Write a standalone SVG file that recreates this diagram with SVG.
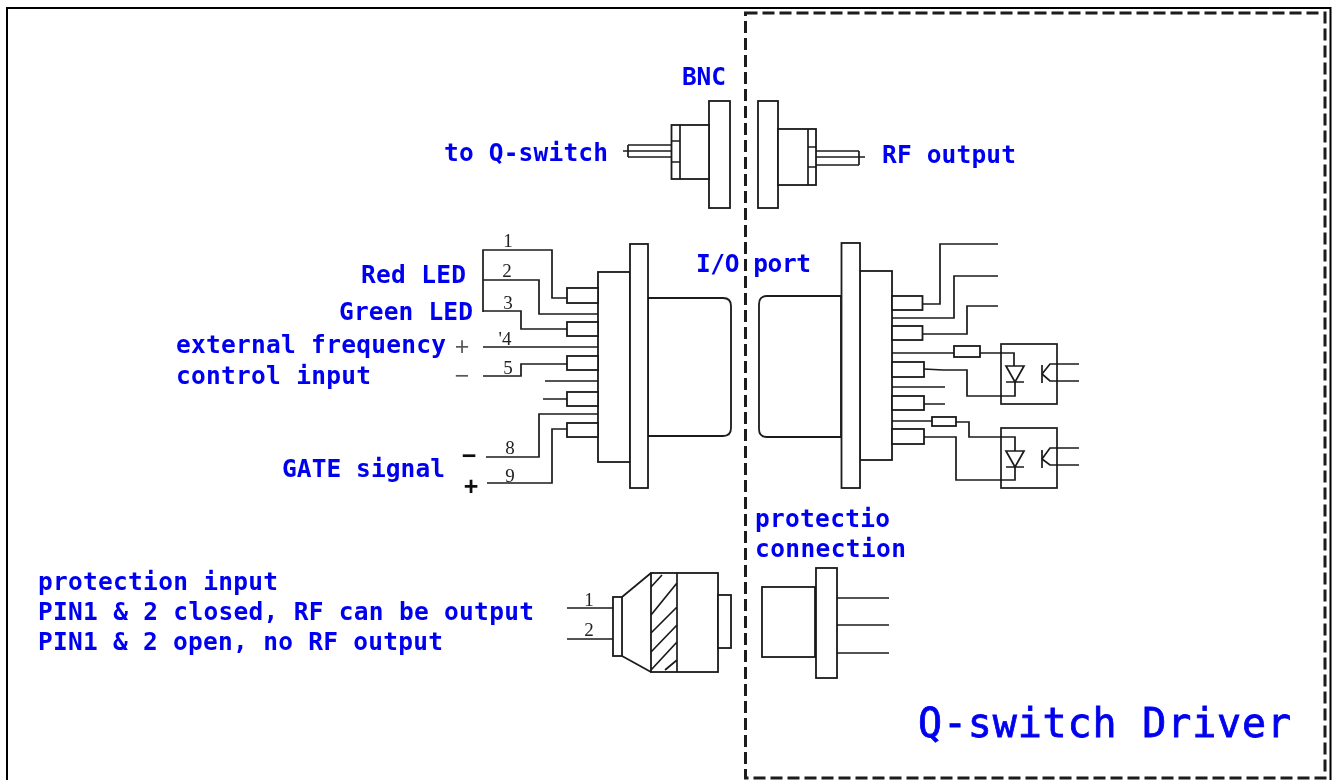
<svg xmlns="http://www.w3.org/2000/svg" width="1338" height="780" viewBox="0 0 1338 780">
<style>
.l{fill:none;stroke:#1a1a1a;stroke-width:1.7}
.w{fill:#fff;stroke:#1a1a1a;stroke-width:1.8}
.t{font-family:"DejaVu Sans Mono",monospace;font-weight:bold;fill:#0000f0;font-size:24.500px}
.n{font-family:"Liberation Serif",serif;fill:#222;font-size:19px;text-anchor:middle}
.s{font-family:"Liberation Sans",sans-serif;fill:#111;font-size:25px;text-anchor:middle}
</style>
<defs>
<filter id="soft" filterUnits="userSpaceOnUse" x="0" y="0" width="1338" height="780"><feGaussianBlur stdDeviation="0.45"/></filter>
</defs>
<rect width="1338" height="780" fill="#fff"/>
<path d="M7 780V8H1330.500V780" fill="none" stroke="#000" stroke-width="2"/>
<g filter="url(#soft)">
<g id="connectors">
<path class="l" d="M483 312V250H552V298H567M483 280H539V314H598M483 311H521V329H567M483 347H598M483 376H521V364H567M545 381H598M543 399H567M486 457H539V414H598M487 483H552V429H567"/>
<path class="l" d="M922 304H940V244H998M892 318H954V276H998M922 334H967V306H998M892 353H954M980 353H1014V366M1015 382V396H967V370H943L924 369M892 387H945M924 404H945M892 421H932M956 422H969V437H1015V451M1015 467V480H956V437H924"/>
<path class="l" d="M1042 374L1050 364H1079M1042 374L1050 381H1079M1042 459L1050 448H1079M1042 459L1050 465H1079"/>
<path class="l" d="M567 608H613M567 639H613M837 598H889M837 625H889M837 653H889"/>
<path class="l" d="M623 151H671M628 145H671M628 157H671M628 145V157M816 151H859M816 165H859M859 151V165M816 157H865"/>
</g>
<g id="bnc-left">
<rect class="w" x="709" y="101" width="21" height="107"/>
<rect class="w" x="671.500" y="125" width="37.500" height="54"/>
<path class="l" d="M680 125V179M671 141H680M671 162H680"/>
</g>
<g id="bnc-right">
<rect class="w" x="758" y="101" width="20" height="107"/>
<rect class="w" x="778" y="129" width="38" height="56"/>
<path class="l" d="M808 129V185M808 147H816M808 167H816"/>
</g>
<g id="io-left">
<path class="w" d="M648 298H723Q731 298 731 306V428Q731 436 723 436H648Z"/>
<rect class="w" x="598" y="272" width="32" height="190"/>
<rect class="w" x="630" y="244" width="18" height="244"/>
<rect class="w" x="567" y="288" width="31" height="15"/>
<rect class="w" x="567" y="322" width="31" height="14"/>
<rect class="w" x="567" y="356" width="31" height="14"/>
<rect class="w" x="567" y="392" width="31" height="14"/>
<rect class="w" x="567" y="423" width="31" height="14"/>
</g>
<g id="io-right">
<path class="w" d="M841 296H767Q759 296 759 304V429Q759 437 767 437H841Z"/>
<rect class="w" x="860" y="271" width="32" height="189"/>
<rect class="w" x="841.500" y="243" width="18.500" height="245"/>
<rect class="w" x="892" y="296" width="30.500" height="14"/>
<rect class="w" x="892" y="326" width="30.500" height="14"/>
<rect class="w" x="892" y="362" width="32" height="15"/>
<rect class="w" x="892" y="396" width="32" height="14"/>
<rect class="w" x="892" y="429" width="32" height="15"/>
<rect class="w" x="954" y="346" width="26" height="11"/>
<rect class="w" x="932" y="417" width="24" height="9"/>
</g>
<g id="opto-1">
<rect class="l" x="1001" y="344" width="56" height="60"/>
<path class="l" d="M1006 366H1024L1015 382ZM1006 382H1024M1042 365V383"/>
</g>
<g id="opto-2">
<rect class="l" x="1001" y="428" width="56" height="60"/>
<path class="l" d="M1006 451H1024L1015 467ZM1006 467H1024M1042 450V468"/>
</g>
<g id="protection-plug">
<rect class="w" x="613" y="597" width="9" height="59"/>
<path class="l" d="M622 597L651 573M622 656L651 672"/>
<rect class="w" x="651" y="573" width="67" height="99"/>
<rect class="w" x="718" y="595" width="13" height="53"/>
<path class="l" d="M651 587L662 575M651 615L677 583M651 633L677 607M651 652L677 625M651 670L677 642M665 670L677 660M677 573V672"/>
</g>
<g id="protection-socket">
<rect class="w" x="762" y="587" width="53" height="70"/>
<rect class="w" x="816" y="568" width="21" height="110"/>
</g>
<g id="driver-box">
<rect x="745.500" y="13" width="579.500" height="765" fill="none" stroke="#1a1a1a" stroke-width="3" stroke-dasharray="12 5"/>
</g>
<g id="labels">
<text class="t" x="682" y="85" textLength="44">BNC</text>
<text class="t" x="444" y="161" textLength="164">to Q-switch</text>
<text class="t" x="882" y="163" textLength="134">RF output</text>
<text class="t" x="361" y="283" textLength="105">Red LED</text>
<text class="t" x="339" y="320" textLength="134">Green LED</text>
<text class="t" x="176" y="353" textLength="270">external frequency</text>
<text class="t" x="176" y="384" textLength="195">control input</text>
<text class="t" x="282" y="477" textLength="163">GATE signal</text>
<text class="t" x="696" y="272" textLength="115">I/O port</text>
<text class="t" x="38" y="590" textLength="240">protection input</text>
<text class="t" x="38" y="620" textLength="496">PIN1 &amp; 2 closed, RF can be output</text>
<text class="t" x="38" y="650" textLength="405">PIN1 &amp; 2 open, no RF output</text>
<text class="t" x="755" y="527" textLength="135">protectio</text>
<text class="t" x="755" y="557" textLength="151">connection</text>
<text class="t" x="918" y="737" textLength="373" style="font-size:40px;font-weight:normal;stroke:#0000f0;stroke-width:0.8">Q-switch Driver</text>
<text class="n" x="508" y="247">1</text>
<text class="n" x="507" y="277">2</text>
<text class="n" x="508" y="309">3</text>
<text class="n" x="505" y="345">'4</text>
<text class="n" x="508" y="374">5</text>
<text class="n" x="510" y="454">8</text>
<text class="n" x="510" y="482">9</text>
<text class="n" x="589" y="606">1</text>
<text class="n" x="589" y="636">2</text>
<text class="s" x="462" y="355" fill-opacity="0.7">+</text>
<text class="s" x="462" y="384" fill-opacity="0.7">−</text>
<text class="s" x="469" y="464" font-weight="bold">−</text>
<text class="s" x="471" y="495" font-weight="bold">+</text>
</g>
</g>
</svg>
